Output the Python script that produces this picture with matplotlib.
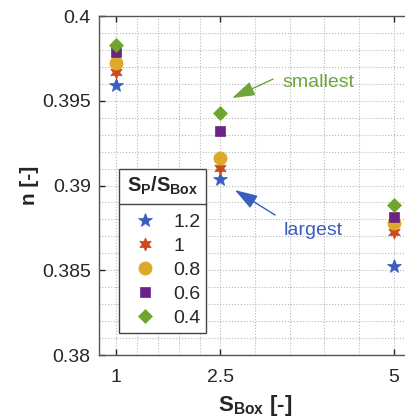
import matplotlib
matplotlib.use("Agg")
import matplotlib.pyplot as plt
from matplotlib.lines import Line2D

plt.rcParams['font.family'] = ['Liberation Sans', 'DejaVu Sans']
plt.rcParams['mathtext.fontset'] = 'custom'
plt.rcParams['mathtext.rm'] = 'Liberation Sans'
plt.rcParams['mathtext.bf'] = 'Liberation Sans:bold'
plt.rcParams['mathtext.it'] = 'Liberation Sans:italic'

# S_Box values and n for each S_P/S_Box ratio
s_box = [1, 2.5, 5]
ratio_labels = ['1.2', '1', '0.8', '0.6', '0.4']
n_12 = [0.39593, 0.39038, 0.38525]
n_10 = [0.39671, 0.39101, 0.38727]
n_08 = [0.39721, 0.39164, 0.38777]
n_06 = [0.39789, 0.39323, 0.38812]
n_04 = [0.39829, 0.39426, 0.38885]

series = [n_12, n_10, n_08, n_06, n_04]
colors = ['#3a5dc0', '#cc4a1e', '#dcaa28', '#6b2485', '#71a532']
markers = ['*', (6, 1, 0), 'o', 's', 'D']
sizes = [10.5, 9.5, 9.5, 7.2, 7]

axis_col = '#262626'

fig = plt.figure(figsize=(4.06, 4.19), dpi=100)
ax = fig.add_axes([99/406, 1 - 355/419, 312/406, 339/419])

for vals, c, m, ms, lab in zip(series, colors, markers, sizes, ratio_labels):
    ax.plot(s_box, vals, linestyle='none', marker=m, color=c, markersize=ms,
            markeredgewidth=0.5, label=lab)

ax.set_xlim(0.75, 5.25)
ax.set_ylim(0.38, 0.4)
ax.set_xticks([1, 2.5, 5])
ax.set_xticklabels(['1', '2.5', '5'])
ax.set_xticks([1.3, 1.6, 1.9, 2.2, 3, 3.5, 4, 4.5], minor=True)
ax.set_yticks([0.38, 0.385, 0.39, 0.395, 0.4])
ax.set_yticklabels(['0.38', '0.385', '0.39', '0.395', '0.4'])
ax.set_yticks([0.38 + 0.001 * i for i in range(21)], minor=True)

ax.grid(True, which='both', linestyle=':', color='#b8b8b8', linewidth=0.8)
ax.set_axisbelow(True)
ax.tick_params(which='major', direction='in', length=4, width=1, colors=axis_col,
               labelsize=14, top=True, right=True)
ax.tick_params(axis='x', pad=10)
ax.tick_params(axis='y', pad=6)
ax.tick_params(which='minor', length=0)
for sp in ax.spines.values():
    sp.set_color('#555555')
    sp.set_linewidth(1)

ax.set_xlabel(r'$\mathbf{S_{Box}}$ [-]', fontsize=16, fontweight='bold', color=axis_col, labelpad=5)
ax.set_ylabel('n [-]', fontsize=15, fontweight='bold', color=axis_col, labelpad=2)

# annotations: arrow from tail to tip, text next to the tail
head = '-|>,head_length=1.4,head_width=0.45'
ax.annotate('', xy=(2.67, 0.39516), xytext=(3.26, 0.39628),
            arrowprops=dict(arrowstyle=head, color='#6fa53a', lw=1,
                            shrinkA=0, shrinkB=0, mutation_scale=10))
ax.text(3.40, 0.39605, 'smallest', color='#6fa53a', fontsize=14, va='center', ha='left')
ax.annotate('', xy=(2.71, 0.38973), xytext=(3.29, 0.38826),
            arrowprops=dict(arrowstyle=head, color='#3a5dc0', lw=1,
                            shrinkA=0, shrinkB=0, mutation_scale=10))
ax.text(3.42, 0.38735, 'largest', color='#3a5dc0', fontsize=14, va='center', ha='left')

leg = ax.legend(loc='lower left', bbox_to_anchor=(0.064, 0.065), borderaxespad=0,
                title=r'$\mathbf{S_P/S_{Box}}$', title_fontsize=14.5, fontsize=14,
                fancybox=False, framealpha=1, edgecolor='#444444',
                handlelength=2.05, handletextpad=0.45, labelspacing=0.33,
                borderpad=0.3, alignment='center')
leg.get_frame().set_linewidth(1)
leg._legend_box.sep = 12
for t in leg.get_texts():
    t.set_color(axis_col)
leg.get_title().set_color(axis_col)

# separator line under legend title
fig.canvas.draw()
r = fig.canvas.get_renderer()
lb = leg.get_window_extent(r)
tb = leg.get_title().get_window_extent(r)
ysep = tb.y0 - 7
inv = fig.transFigure.inverted()
p0 = inv.transform((lb.x0, ysep))
p1 = inv.transform((lb.x1, ysep))
fig.add_artist(Line2D([p0[0], p1[0]], [p0[1], p1[1]], color='#444444', lw=1))

fig.savefig('out.png', dpi=100)
